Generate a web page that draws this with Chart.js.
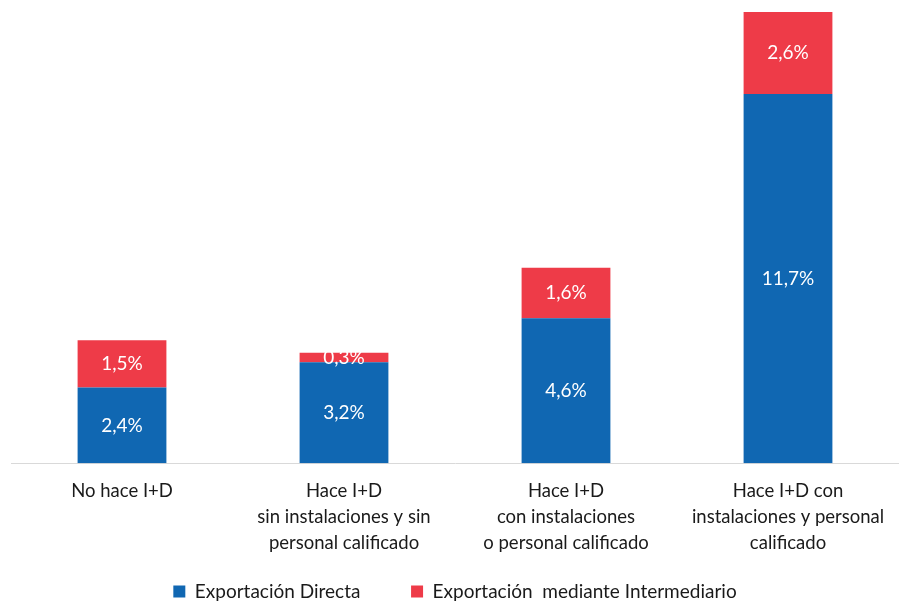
<!DOCTYPE html>
<html>
<head>
<meta charset="utf-8">
<script src="https://cdn.jsdelivr.net/npm/chart.js@4"></script>
<style>
  html, body { margin: 0; padding: 0; background: #fff; }
  #wrap { width: 899px; height: 603px; }
</style>
</head>
<body>
<div id="wrap"><canvas id="myChart"></canvas></div>
<script>
const categories = [
	['No hace I+D'],
	['Hace I+D', 'sin instalaciones y sin', 'personal calificado'],
	['Hace I+D', 'con instalaciones', 'o personal calificado'],
	['Hace I+D con', 'instalaciones y personal', 'calificado']
];
const directa = [2.4, 3.2, 4.6, 11.7];
const intermediario = [1.5, 0.3, 1.6, 2.6];
const seriesNames = ['Exportación Directa', 'Exportación  mediante Intermediario'];

const FONT = 'Lato, "Open Sans", sans-serif';

// white value labels in the middle of each segment
const barLabels = {
	id: 'barLabels',
	afterDatasetsDraw(chart) {
		const c = chart.ctx;
		c.save();
		c.fillStyle = '#ffffff';
		c.font = '19px ' + FONT;
		c.textAlign = 'center';
		c.textBaseline = 'middle';
		chart.data.datasets.forEach((ds, i) => {
			chart.getDatasetMeta(i).data.forEach((bar, j) => {
				const mid = (bar.y + bar.base) / 2;
				c.fillText(ds.data[j].toFixed(1).replace('.', ',') + '%', bar.x, mid);
			});
		});
		c.restore();
	}
};

const ctx = document.getElementById('myChart').getContext('2d');
let myChart = new Chart(ctx, {
	type: 'bar',
	data: {
		labels: categories,
		datasets: [
			{ label: seriesNames[0], data: directa, backgroundColor: '#1067b2', barPercentage: 0.4, categoryPercentage: 1 },
			{ label: seriesNames[1], data: intermediario, backgroundColor: '#ee3b48', barPercentage: 0.4, categoryPercentage: 1 }
		]
	},
	options: {
		responsive: true,
		maintainAspectRatio: false,
		animation: false,
		layout: { padding: { left: 11, right: 0, top: 12, bottom: -8 } },
		scales: {
			x: {
				stacked: true,
				grid: { display: false },
				border: { display: true, color: '#d9d9d9', width: 1 },
				ticks: { color: '#1a1a1a', font: { family: FONT, size: 18.5, lineHeight: 1.4 }, maxRotation: 0, padding: 7 },
				afterFit(scale) { scale.height += 17; }
			},
			y: {
				stacked: true,
				display: false,
				min: 0,
				max: 14.3
			}
		},
		plugins: {
			tooltip: { enabled: false },
			legend: {
				position: 'bottom',
				labels: {
					color: '#1a1a1a',
					font: { family: FONT, size: 19 },
					boxWidth: 12,
					boxHeight: 12,
					padding: 2,
					generateLabels(chart) {
						const items = Chart.defaults.plugins.legend.labels.generateLabels(chart);
						items[0].text = items[0].text + '          ';
						items.forEach(it => { it.lineWidth = 0; });
						return items;
					}
				}
			}
		}
	},
	plugins: [barLabels]
});
</script>
</body>
</html>
